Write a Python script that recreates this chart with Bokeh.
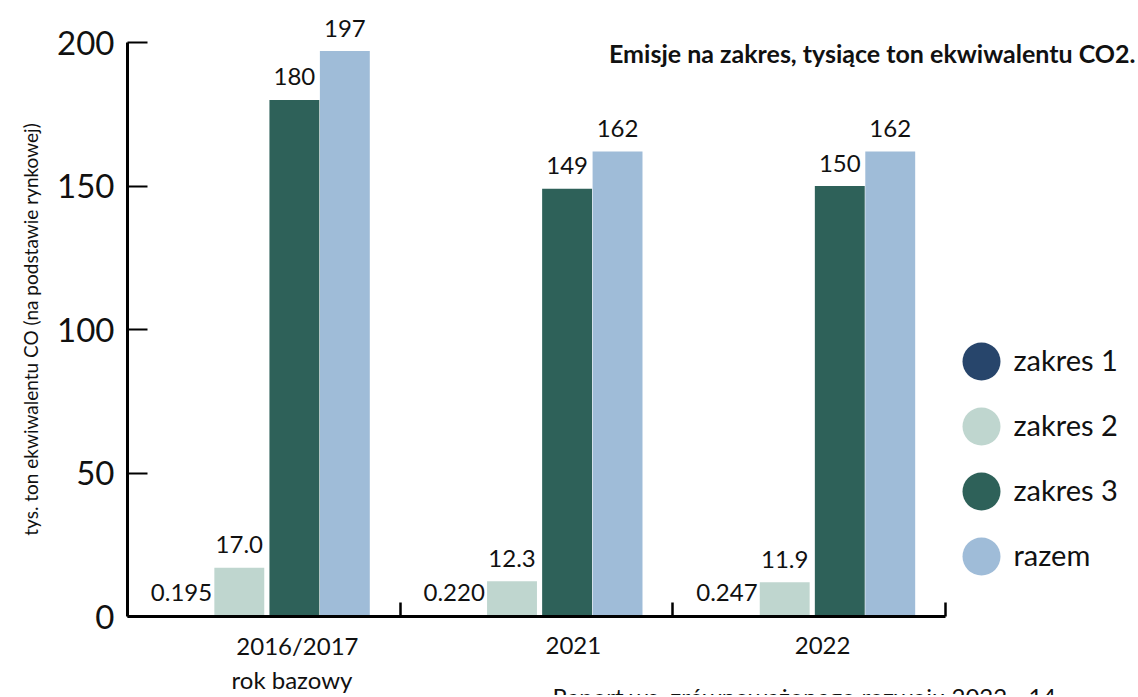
from bokeh.plotting import figure
from bokeh.models import Range1d, FixedTicker, LinearAxis
from bokeh.embed import file_html
from bokeh.resources import INLINE
from bokeh.core.properties import value

# ---------------- data ----------------
categories = ["2016/2017", "2021", "2022"]
category_notes = ["rok bazowy", "", ""]
series = ["zakres 1", "zakres 2", "zakres 3", "razem"]
zakres1 = [0.195, 0.220, 0.247]
zakres2 = [17.0, 12.3, 11.9]
zakres3 = [180, 149, 150]
razem = [197, 162, 162]
label_formats = ["{:.3f}", "{:.1f}", "{:.0f}", "{:.0f}"]
y_ticks = [0, 50, 100, 150, 200]
title_text = "Emisje na zakres, tysiące ton ekwiwalentu CO2."
y_label = "tys. ton ekwiwalentu CO (na podstawie rynkowej)"
footer_text = "Raport ws. zrównoważonego rozwoju 2022 - 14"

# ---------------- styles / layout ----------------
colors = ["#27456b", "#bfd6cf", "#2e6159", "#9fbcd8"]
offsets = [-0.302, -0.090, 0.112, 0.297]
bar_w = 0.183
x_label_shift = [0.123, 0.135, 0.049]
FONT = "Lato"
TXT = "#111111"
PX_X = 272.7   # pixels per category
PX_Y = 2.87    # pixels per unit of value
BL_FIX = 9     # px: alphabetic baseline correction

values = [zakres1, zakres2, zakres3, razem]
n = len(categories)
W, H = 1136, 695
LEFT, BASE = 127, 616   # pixel position of x=0 / y=0


def ypx(py):
    """data y for a pixel row (used for annotations only)"""
    return (BASE - py) / PX_Y


p = figure(width=W, height=H,
           x_range=Range1d(-LEFT / PX_X, (W - LEFT) / PX_X),
           y_range=Range1d(-(H - BASE) / PX_Y, BASE / PX_Y),
           x_axis_type=None, y_axis_type=None,
           output_backend="svg", toolbar_location=None,
           min_border_left=0, min_border_right=0,
           min_border_top=0, min_border_bottom=0)
p.xgrid.visible = False
p.ygrid.visible = False
p.outline_line_color = None
p.background_fill_color = "white"
p.border_fill_color = "white"

# x axis
xa = LinearAxis(fixed_location=0, ticker=FixedTicker(ticks=[1, 2, 3]), bounds=(0, n))
xa.axis_line_width = 3
xa.axis_line_color = "black"
xa.major_tick_in = 14
xa.major_tick_out = 0
xa.major_tick_line_width = 2.5
xa.minor_tick_line_color = None
xa.major_label_text_font_size = "0px"
xa.major_label_text_color = None
p.add_layout(xa, "below")

# y axis
ya = LinearAxis(fixed_location=0, ticker=FixedTicker(ticks=y_ticks), bounds=(0, 200))
ya.axis_line_width = 3
ya.axis_line_color = "black"
ya.major_tick_in = 20
ya.major_tick_out = 0
ya.major_tick_line_width = 2
ya.minor_tick_line_color = None
ya.major_label_text_font = FONT
ya.major_label_text_font_size = "33px"
ya.major_label_text_color = TXT
ya.major_label_standoff = 13
ya.axis_label = y_label
ya.axis_label_text_font = FONT
ya.axis_label_text_font_size = "19px"
ya.axis_label_text_font_style = "normal"
ya.axis_label_text_color = TXT
ya.axis_label_standoff = 12
p.add_layout(ya, "left")

# bars + value labels
pad = (14 + BL_FIX) / PX_Y
for i, vals in enumerate(values):
    xs = [c + 0.5 + offsets[i] for c in range(n)]
    p.vbar(x=xs, top=vals, width=bar_w, fill_color=colors[i], line_color=None)
    p.text(x=xs, y=[v + pad for v in vals],
           text=[label_formats[i].format(v) for v in vals],
           text_align="center", text_baseline="alphabetic",
           text_font=value(FONT), text_font_size="24px", text_color=TXT)

# legend
leg_x = (981 - LEFT) / PX_X
leg_y = [ypx(361 + i * 65) for i in range(len(series))]
p.scatter(x=[leg_x] * len(series), y=leg_y, size=38, fill_color=colors,
          line_color=None)
p.text(x=[leg_x + 32 / PX_X] * len(series), y=[v + 2 / PX_Y for v in leg_y],
       text=series, text_align="left", text_baseline="middle",
       text_font=value(FONT), text_font_size="29px", text_color=TXT)

# title
p.text(x=[(1135 - LEFT) / PX_X], y=[ypx(61 - BL_FIX)], text=[title_text],
       text_align="right", text_baseline="alphabetic", text_font=value(FONT),
       text_font_size="25px", text_font_style="bold", text_color=TXT)

# category labels below the axis
p.text(x=[c + 0.5 + x_label_shift[c] for c in range(n)],
       y=[ypx(654 - BL_FIX)] * n, text=categories,
       text_align="center", text_baseline="alphabetic",
       text_font=value(FONT), text_font_size="24px", text_color=TXT)
p.text(x=[c + 0.5 + x_label_shift[c] - 0.02 for c in range(n)],
       y=[ypx(688 - BL_FIX)] * n, text=category_notes,
       text_align="center", text_baseline="alphabetic",
       text_font=value(FONT), text_font_size="24px", text_color=TXT)

# footer (cut at the bottom edge, as in the reference)
p.text(x=[(552 - LEFT) / PX_X], y=[ypx(681)], text=[footer_text],
       text_align="left", text_baseline="top",
       text_font=value(FONT), text_font_size="24px", text_color=TXT)

open("out.html", "w").write(file_html(p, INLINE))
